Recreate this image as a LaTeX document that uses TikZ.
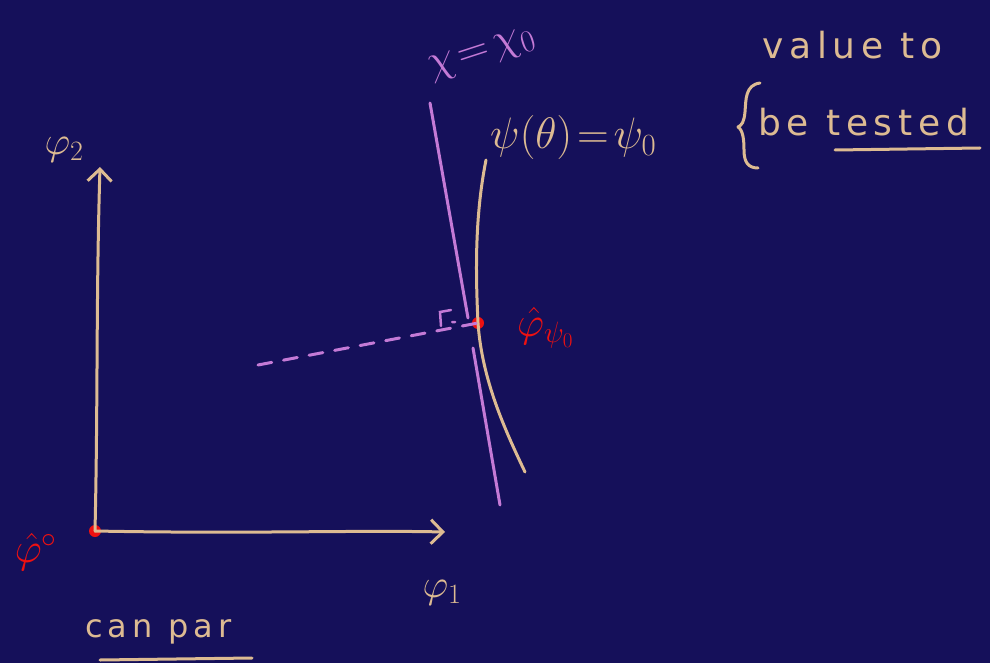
\RequirePackage{fix-cm}
\documentclass[tikz,border=0pt]{standalone}
\usepackage{fontspec}
\setmainfont{DejaVu Sans}
\newfontfamily\hand[LetterSpace=16]{DejaVu Sans}
\usetikzlibrary{arrows.meta}
\definecolor{bg}{HTML}{15105A}
\definecolor{tan}{HTML}{DDBB92}
\definecolor{pinkl}{HTML}{C47AD6}
\definecolor{redd}{HTML}{EE1111}
\tikzset{
  axis/.style={draw=tan,line width=3pt,line cap=round,-{Straight Barb[length=12pt,width=24pt,line width=3pt]}},
  tanline/.style={draw=tan,line width=3pt,line cap=round,line join=round},
  pinkline/.style={draw=pinkl,line width=3pt,line cap=round},
  tantext/.style={text=tan,font=\fontsize{40}{46}\selectfont,inner sep=0pt},
  handtext/.style={text=tan,font=\hand\fontsize{36}{42}\selectfont,inner sep=0pt},
  pinktext/.style={text=pinkl,font=\fontsize{44}{50}\selectfont,inner sep=0pt},
  redtext/.style={text=redd,font=\fontsize{42}{48}\selectfont,inner sep=0pt},
  dot/.style={circle,fill=redd,inner sep=0pt,minimum size=12pt}
}
\begin{document}
\begin{tikzpicture}[x=1pt,y=-1pt]
\fill[bg] (0,0) rectangle (990,663);
\useasboundingbox (0,0) rectangle (990,663);
% axes
\node[dot] (O) at (95,531) {};
\coordinate (Y) at (100,167);
\coordinate (X) at (445,532);
\draw[axis] (O.center) .. controls (98,400) and (96,300) .. (Y);
\draw[axis] (O.center) .. controls (250,534) and (350,530) .. (X);
\node[tantext] (l2) at (64,150) {$\varphi_2$};
\node[tantext] (l1) at (442,593) {$\varphi_1$};
\node[redtext] (l0) at (36,552) {$\hat{\varphi}^{\circ}$};
\node[handtext,font=\hand\fontsize{32}{38}\selectfont,anchor=west] (cp) at (85,632) {can par};
\draw[tanline] (100,660) -- (252,658);
% pink line chi = chi0
\coordinate (P1) at (430,103);
\coordinate (P2) at (468,318);
\coordinate (P3) at (473,348);
\coordinate (P4) at (500,505);
\draw[pinkline] (P1) -- (P2);
\draw[pinkline] (P3) -- (P4);
\node[pinktext,rotate=18] (chi) at (482,55) {$\chi\!=\!\chi_0$};
% tan curve psi
\node[dot] (D) at (478,323) {};
\coordinate (C1) at (486,160);
\coordinate (C2) at (525,472);
\draw[tanline] (C1) .. controls (474,220) and (476,280) .. (D.center)
  .. controls (482,380) and (505,430) .. (C2);
\node[tantext,font=\fontsize{44}{50}\selectfont,anchor=west] (psi) at (490,138) {$\psi(\theta)\!=\!\psi_0$};
\node[redtext,anchor=west] (lp) at (517,328) {$\hat{\varphi}_{\psi_0}$};
% dashed perpendicular
\coordinate (Q) at (258,365);
\draw[pinkline,dash pattern=on 14pt off 12pt] (Q) -- (D.center);
\draw[pinkline,line width=2.5pt] (441,326) -- (440,312) -- (451,310) (452,322) -- (455,322);
% brace and text
\coordinate (B1) at (760,83);
\coordinate (B2) at (758,168);
\draw[tanline] (B1) .. controls (745,85) and (746,100) .. (745,112)
  .. controls (744,122) and (742,125) .. (738,127)
  .. controls (743,130) and (744,140) .. (744,150)
  .. controls (744,162) and (748,168) .. (B2);
\node[handtext,anchor=west] (v1) at (762,45) {value to};
\node[handtext,anchor=west] (v2) at (758,122) {be tested};
\draw[tanline] (835,150) -- (980,148);
\end{tikzpicture}
\end{document}
